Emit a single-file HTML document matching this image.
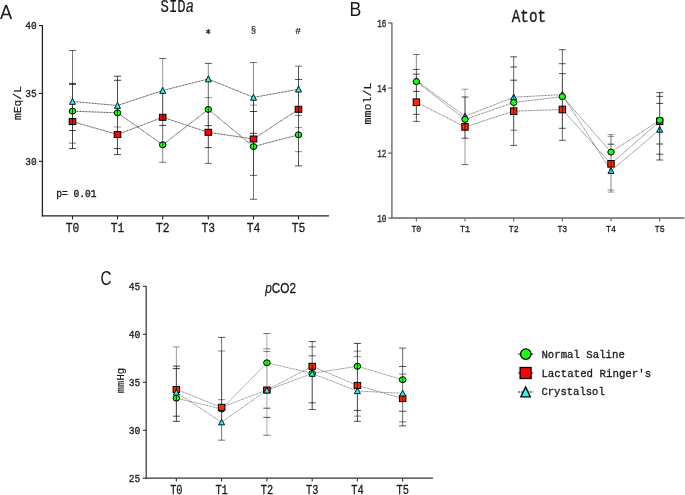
<!DOCTYPE html>
<html><head><meta charset="utf-8"><style>
html,body{margin:0;padding:0;background:#fff;width:685px;height:495px;overflow:hidden}
svg{display:block;will-change:transform}
</style></head><body>
<svg width="685" height="495" viewBox="0 0 685 495">
<rect width="685" height="495" fill="#fff"/>
<line x1="42.4" y1="25" x2="42.4" y2="216.4" stroke="#222" stroke-width="1.3"/>
<line x1="41.8" y1="215.8" x2="329" y2="215.8" stroke="#222" stroke-width="1.3"/>
<line x1="38.8" y1="25.6" x2="42.4" y2="25.6" stroke="#222" stroke-width="1.1"/>
<text x="36.6" y="29.3" font-size="10.5" font-family='"Liberation Mono", monospace' font-weight="normal" text-anchor="end" fill="#1a1a1a" stroke="#1a1a1a" stroke-width="0.3" textLength="11.4" lengthAdjust="spacingAndGlyphs" >40</text>
<line x1="38.8" y1="93.45" x2="42.4" y2="93.45" stroke="#222" stroke-width="1.1"/>
<text x="36.6" y="97.15" font-size="10.5" font-family='"Liberation Mono", monospace' font-weight="normal" text-anchor="end" fill="#1a1a1a" stroke="#1a1a1a" stroke-width="0.3" textLength="11.4" lengthAdjust="spacingAndGlyphs" >35</text>
<line x1="38.8" y1="161.3" x2="42.4" y2="161.3" stroke="#222" stroke-width="1.1"/>
<text x="36.6" y="165.0" font-size="10.5" font-family='"Liberation Mono", monospace' font-weight="normal" text-anchor="end" fill="#1a1a1a" stroke="#1a1a1a" stroke-width="0.3" textLength="11.4" lengthAdjust="spacingAndGlyphs" >30</text>
<line x1="72.5" y1="215.8" x2="72.5" y2="219.4" stroke="#222" stroke-width="1.1"/>
<text x="72.5" y="231.9" font-size="13" font-family='"Liberation Mono", monospace' font-weight="normal" text-anchor="middle" fill="#1a1a1a" stroke="#1a1a1a" stroke-width="0.3" textLength="13.6" lengthAdjust="spacingAndGlyphs" >T0</text>
<line x1="117.5" y1="215.8" x2="117.5" y2="219.4" stroke="#222" stroke-width="1.1"/>
<text x="117.5" y="231.9" font-size="13" font-family='"Liberation Mono", monospace' font-weight="normal" text-anchor="middle" fill="#1a1a1a" stroke="#1a1a1a" stroke-width="0.3" textLength="13.6" lengthAdjust="spacingAndGlyphs" >T1</text>
<line x1="162.7" y1="215.8" x2="162.7" y2="219.4" stroke="#222" stroke-width="1.1"/>
<text x="162.7" y="231.9" font-size="13" font-family='"Liberation Mono", monospace' font-weight="normal" text-anchor="middle" fill="#1a1a1a" stroke="#1a1a1a" stroke-width="0.3" textLength="13.6" lengthAdjust="spacingAndGlyphs" >T2</text>
<line x1="208.3" y1="215.8" x2="208.3" y2="219.4" stroke="#222" stroke-width="1.1"/>
<text x="208.3" y="231.9" font-size="13" font-family='"Liberation Mono", monospace' font-weight="normal" text-anchor="middle" fill="#1a1a1a" stroke="#1a1a1a" stroke-width="0.3" textLength="13.6" lengthAdjust="spacingAndGlyphs" >T3</text>
<line x1="253.5" y1="215.8" x2="253.5" y2="219.4" stroke="#222" stroke-width="1.1"/>
<text x="253.5" y="231.9" font-size="13" font-family='"Liberation Mono", monospace' font-weight="normal" text-anchor="middle" fill="#1a1a1a" stroke="#1a1a1a" stroke-width="0.3" textLength="13.6" lengthAdjust="spacingAndGlyphs" >T4</text>
<line x1="298.5" y1="215.8" x2="298.5" y2="219.4" stroke="#222" stroke-width="1.1"/>
<text x="298.5" y="231.9" font-size="13" font-family='"Liberation Mono", monospace' font-weight="normal" text-anchor="middle" fill="#1a1a1a" stroke="#1a1a1a" stroke-width="0.3" textLength="13.6" lengthAdjust="spacingAndGlyphs" >T5</text>
<path d="M72.50 111.20 L117.50 112.80 L162.70 144.80 L208.30 109.40 L253.50 146.60 L298.50 134.80" fill="none" stroke="#383838" stroke-width="0.9" stroke-dasharray="1.0,0.5"/>
<path d="M72.50 121.60 L117.50 134.50 L162.70 117.30 L208.30 132.30 L253.50 139.00 L298.50 109.30" fill="none" stroke="#383838" stroke-width="0.9" stroke-dasharray="1.0,0.5"/>
<path d="M72.50 101.50 L117.50 105.50 L162.70 90.50 L208.30 79.00 L253.50 97.40 L298.50 89.20" fill="none" stroke="#383838" stroke-width="0.9" stroke-dasharray="1.0,0.5"/>
<ellipse cx="72.5" cy="111.2" rx="3.25" ry="3.00" fill="#19ff14" stroke="#000" stroke-width="1.0"/>
<rect x="69.20" y="118.60" width="6.60" height="6.00" fill="#fc0006" stroke="#000" stroke-width="1.0"/>
<ellipse cx="117.5" cy="112.8" rx="3.25" ry="3.00" fill="#19ff14" stroke="#000" stroke-width="1.0"/>
<ellipse cx="162.7" cy="144.8" rx="3.25" ry="3.00" fill="#19ff14" stroke="#000" stroke-width="1.0"/>
<rect x="159.40" y="114.30" width="6.60" height="6.00" fill="#fc0006" stroke="#000" stroke-width="1.0"/>
<ellipse cx="208.3" cy="109.4" rx="3.25" ry="3.00" fill="#19ff14" stroke="#000" stroke-width="1.0"/>
<ellipse cx="253.5" cy="146.6" rx="3.25" ry="3.00" fill="#19ff14" stroke="#000" stroke-width="1.0"/>
<ellipse cx="298.5" cy="134.8" rx="3.25" ry="3.00" fill="#19ff14" stroke="#000" stroke-width="1.0"/>
<rect x="295.20" y="106.30" width="6.60" height="6.00" fill="#fc0006" stroke="#000" stroke-width="1.0"/>
<line x1="72.5" y1="50.5" x2="72.5" y2="84" stroke="#000" stroke-opacity="0.533" stroke-width="1.0"/>
<line x1="72.5" y1="84" x2="72.5" y2="148.6" stroke="#000" stroke-opacity="0.733" stroke-width="1.0"/>
<line x1="69.00" y1="50.5" x2="76.00" y2="50.5" stroke="#000" stroke-opacity="0.6" stroke-width="1"/>
<line x1="69.00" y1="83.4" x2="76.00" y2="83.4" stroke="#000" stroke-opacity="0.733" stroke-width="1"/>
<line x1="69.00" y1="84.4" x2="76.00" y2="84.4" stroke="#000" stroke-opacity="0.733" stroke-width="1"/>
<line x1="69.00" y1="130.5" x2="76.00" y2="130.5" stroke="#000" stroke-opacity="0.733" stroke-width="1"/>
<line x1="69.00" y1="143.1" x2="76.00" y2="143.1" stroke="#000" stroke-opacity="0.533" stroke-width="1"/>
<line x1="69.00" y1="148.6" x2="76.00" y2="148.6" stroke="#000" stroke-opacity="0.733" stroke-width="1"/>
<line x1="117.5" y1="76.2" x2="117.5" y2="154.6" stroke="#000" stroke-opacity="0.71" stroke-width="1.0"/>
<line x1="114.00" y1="76.2" x2="121.00" y2="76.2" stroke="#000" stroke-opacity="0.733" stroke-width="1"/>
<line x1="114.00" y1="80.3" x2="121.00" y2="80.3" stroke="#000" stroke-opacity="0.733" stroke-width="1"/>
<line x1="114.00" y1="127" x2="121.00" y2="127" stroke="#000" stroke-opacity="0.4" stroke-width="1"/>
<line x1="114.00" y1="148.6" x2="121.00" y2="148.6" stroke="#000" stroke-opacity="0.733" stroke-width="1"/>
<line x1="114.00" y1="154.6" x2="121.00" y2="154.6" stroke="#000" stroke-opacity="0.733" stroke-width="1"/>
<line x1="162.7" y1="58.5" x2="162.7" y2="90" stroke="#000" stroke-opacity="0.4" stroke-width="1.0"/>
<line x1="162.7" y1="90" x2="162.7" y2="118" stroke="#000" stroke-opacity="0.733" stroke-width="1.0"/>
<line x1="162.7" y1="118" x2="162.7" y2="145" stroke="#000" stroke-opacity="0.6" stroke-width="1.0"/>
<line x1="162.7" y1="145" x2="162.7" y2="162.3" stroke="#000" stroke-opacity="0.467" stroke-width="1.0"/>
<line x1="159.20" y1="58.5" x2="166.20" y2="58.5" stroke="#000" stroke-opacity="0.6" stroke-width="1"/>
<line x1="159.20" y1="125.4" x2="166.20" y2="125.4" stroke="#000" stroke-opacity="0.733" stroke-width="1"/>
<line x1="159.20" y1="162.3" x2="166.20" y2="162.3" stroke="#000" stroke-opacity="0.533" stroke-width="1"/>
<line x1="208.3" y1="63.4" x2="208.3" y2="79" stroke="#000" stroke-opacity="0.467" stroke-width="1.0"/>
<line x1="208.3" y1="79" x2="208.3" y2="109" stroke="#000" stroke-opacity="0.6" stroke-width="1.0"/>
<line x1="208.3" y1="109" x2="208.3" y2="147.6" stroke="#000" stroke-opacity="0.733" stroke-width="1.0"/>
<line x1="208.3" y1="147.6" x2="208.3" y2="163.4" stroke="#000" stroke-opacity="0.533" stroke-width="1.0"/>
<line x1="204.80" y1="63.4" x2="211.80" y2="63.4" stroke="#000" stroke-opacity="0.667" stroke-width="1"/>
<line x1="204.80" y1="97.7" x2="211.80" y2="97.7" stroke="#000" stroke-opacity="0.467" stroke-width="1"/>
<line x1="204.80" y1="125.6" x2="211.80" y2="125.6" stroke="#000" stroke-opacity="0.733" stroke-width="1"/>
<line x1="204.80" y1="147.6" x2="211.80" y2="147.6" stroke="#000" stroke-opacity="0.733" stroke-width="1"/>
<line x1="204.80" y1="163.4" x2="211.80" y2="163.4" stroke="#000" stroke-opacity="0.6" stroke-width="1"/>
<line x1="253.5" y1="62.5" x2="253.5" y2="97" stroke="#000" stroke-opacity="0.467" stroke-width="1.0"/>
<line x1="253.5" y1="97" x2="253.5" y2="175.4" stroke="#000" stroke-opacity="0.733" stroke-width="1.0"/>
<line x1="253.5" y1="175.4" x2="253.5" y2="199.3" stroke="#000" stroke-opacity="0.533" stroke-width="1.0"/>
<line x1="250.00" y1="62.5" x2="257.00" y2="62.5" stroke="#000" stroke-opacity="0.533" stroke-width="1"/>
<line x1="250.00" y1="105.1" x2="257.00" y2="105.1" stroke="#000" stroke-opacity="0.4" stroke-width="1"/>
<line x1="250.00" y1="111.5" x2="257.00" y2="111.5" stroke="#000" stroke-opacity="0.733" stroke-width="1"/>
<line x1="250.00" y1="133.3" x2="257.00" y2="133.3" stroke="#000" stroke-opacity="0.733" stroke-width="1"/>
<line x1="250.00" y1="175.4" x2="257.00" y2="175.4" stroke="#000" stroke-opacity="0.6" stroke-width="1"/>
<line x1="250.00" y1="199.3" x2="257.00" y2="199.3" stroke="#000" stroke-opacity="0.6" stroke-width="1"/>
<line x1="298.5" y1="66.2" x2="298.5" y2="165.9" stroke="#000" stroke-opacity="0.667" stroke-width="1.0"/>
<line x1="295.00" y1="66.2" x2="302.00" y2="66.2" stroke="#000" stroke-opacity="0.533" stroke-width="1"/>
<line x1="295.00" y1="79.5" x2="302.00" y2="79.5" stroke="#000" stroke-opacity="0.667" stroke-width="1"/>
<line x1="295.00" y1="115.4" x2="302.00" y2="115.4" stroke="#000" stroke-opacity="0.533" stroke-width="1"/>
<line x1="295.00" y1="127.5" x2="302.00" y2="127.5" stroke="#000" stroke-opacity="0.4" stroke-width="1"/>
<line x1="295.00" y1="151.7" x2="302.00" y2="151.7" stroke="#000" stroke-opacity="0.467" stroke-width="1"/>
<line x1="295.00" y1="165.9" x2="302.00" y2="165.9" stroke="#000" stroke-opacity="0.667" stroke-width="1"/>
<rect x="114.20" y="131.50" width="6.60" height="6.00" fill="#fc0006" stroke="#000" stroke-width="1.0"/>
<rect x="205.00" y="129.30" width="6.60" height="6.00" fill="#fc0006" stroke="#000" stroke-width="1.0"/>
<rect x="250.20" y="136.00" width="6.60" height="6.00" fill="#fc0006" stroke="#000" stroke-width="1.0"/>
<path d="M72.50 98.32 L75.48 104.35 L69.52 104.35 Z" fill="#20f8f8" stroke="#000" stroke-width="0.9" stroke-linejoin="miter" stroke-miterlimit="10"/>
<path d="M117.50 102.32 L120.48 108.35 L114.52 108.35 Z" fill="#20f8f8" stroke="#000" stroke-width="0.9" stroke-linejoin="miter" stroke-miterlimit="10"/>
<path d="M162.70 87.32 L165.68 93.35 L159.72 93.35 Z" fill="#20f8f8" stroke="#000" stroke-width="0.9" stroke-linejoin="miter" stroke-miterlimit="10"/>
<path d="M208.30 75.82 L211.28 81.85 L205.32 81.85 Z" fill="#20f8f8" stroke="#000" stroke-width="0.9" stroke-linejoin="miter" stroke-miterlimit="10"/>
<path d="M253.50 94.22 L256.48 100.25 L250.52 100.25 Z" fill="#20f8f8" stroke="#000" stroke-width="0.9" stroke-linejoin="miter" stroke-miterlimit="10"/>
<path d="M298.50 86.02 L301.48 92.05 L295.52 92.05 Z" fill="#20f8f8" stroke="#000" stroke-width="0.9" stroke-linejoin="miter" stroke-miterlimit="10"/>
<text x="160.6" y="12.2" font-size="18" font-family='"Liberation Mono", monospace' font-weight="normal" text-anchor="start" fill="#1a1a1a" stroke="#1a1a1a" stroke-width="0.2" textLength="33.5" lengthAdjust="spacingAndGlyphs" >SID<tspan font-style="italic">a</tspan></text>
<text x="0" y="19" font-size="20" font-family='"Liberation Sans", sans-serif' font-weight="normal" text-anchor="start" fill="#1a1a1a" textLength="12.2" lengthAdjust="spacingAndGlyphs" >A</text>
<text x="56.2" y="196.8" font-size="10.5" font-family='"Liberation Mono", monospace' font-weight="normal" text-anchor="start" fill="#1a1a1a" stroke="#1a1a1a" stroke-width="0.35" textLength="40.3" lengthAdjust="spacingAndGlyphs" >p= 0.01</text>
<text x="0" y="0" font-size="11" font-family='"Liberation Mono", monospace' fill="#1a1a1a" stroke="#1a1a1a" stroke-width="0.2" textLength="33.8" lengthAdjust="spacingAndGlyphs" transform="translate(20.6,119.9) rotate(-90)">mEq/L</text>
<line x1="208.25" y1="29.30" x2="208.25" y2="33.90" stroke="#111" stroke-width="1.0" stroke-linecap="round"/>
<line x1="206.34" y1="30.45" x2="210.16" y2="32.75" stroke="#111" stroke-width="1.0" stroke-linecap="round"/>
<line x1="210.16" y1="30.45" x2="206.34" y2="32.75" stroke="#111" stroke-width="1.0" stroke-linecap="round"/>
<text x="253.4" y="32.6" font-size="9" font-family='"Liberation Mono", monospace' font-weight="normal" text-anchor="middle" fill="#1a1a1a" stroke="#1a1a1a" stroke-width="0.2" >§</text>
<text x="298.1" y="34.2" font-size="9.5" font-family='"Liberation Mono", monospace' font-weight="normal" text-anchor="middle" fill="#1a1a1a" stroke="#1a1a1a" stroke-width="0.2" >#</text>
<line x1="391.9" y1="22.5" x2="391.9" y2="218.1" stroke="#777" stroke-width="1.5"/>
<line x1="391.2" y1="218.1" x2="684.5" y2="218.1" stroke="#666" stroke-width="1.5"/>
<line x1="388.09999999999997" y1="23.0" x2="391.9" y2="23.0" stroke="#555" stroke-width="1.1"/>
<text x="386.4" y="26.6" font-size="10.4" font-family='"Liberation Mono", monospace' font-weight="normal" text-anchor="end" fill="#1a1a1a" stroke="#1a1a1a" stroke-width="0.3" textLength="9.2" lengthAdjust="spacingAndGlyphs" >16</text>
<line x1="388.09999999999997" y1="88.05" x2="391.9" y2="88.05" stroke="#555" stroke-width="1.1"/>
<text x="386.4" y="91.64999999999999" font-size="10.4" font-family='"Liberation Mono", monospace' font-weight="normal" text-anchor="end" fill="#1a1a1a" stroke="#1a1a1a" stroke-width="0.3" textLength="9.2" lengthAdjust="spacingAndGlyphs" >14</text>
<line x1="388.09999999999997" y1="153.1" x2="391.9" y2="153.1" stroke="#555" stroke-width="1.1"/>
<text x="386.4" y="156.7" font-size="10.4" font-family='"Liberation Mono", monospace' font-weight="normal" text-anchor="end" fill="#1a1a1a" stroke="#1a1a1a" stroke-width="0.3" textLength="9.2" lengthAdjust="spacingAndGlyphs" >12</text>
<line x1="388.09999999999997" y1="218.1" x2="391.9" y2="218.1" stroke="#555" stroke-width="1.1"/>
<text x="386.4" y="221.7" font-size="10.4" font-family='"Liberation Mono", monospace' font-weight="normal" text-anchor="end" fill="#1a1a1a" stroke="#1a1a1a" stroke-width="0.3" textLength="9.2" lengthAdjust="spacingAndGlyphs" >10</text>
<line x1="416.35" y1="218.1" x2="416.35" y2="221.4" stroke="#666" stroke-width="1.1"/>
<text x="416.35" y="231.8" font-size="9.5" font-family='"Liberation Mono", monospace' font-weight="normal" text-anchor="middle" fill="#1a1a1a" stroke="#1a1a1a" stroke-width="0.3" textLength="9.9" lengthAdjust="spacingAndGlyphs" >T0</text>
<line x1="465.0" y1="218.1" x2="465.0" y2="221.4" stroke="#666" stroke-width="1.1"/>
<text x="465.0" y="231.8" font-size="9.5" font-family='"Liberation Mono", monospace' font-weight="normal" text-anchor="middle" fill="#1a1a1a" stroke="#1a1a1a" stroke-width="0.3" textLength="9.9" lengthAdjust="spacingAndGlyphs" >T1</text>
<line x1="513.7" y1="218.1" x2="513.7" y2="221.4" stroke="#666" stroke-width="1.1"/>
<text x="513.7" y="231.8" font-size="9.5" font-family='"Liberation Mono", monospace' font-weight="normal" text-anchor="middle" fill="#1a1a1a" stroke="#1a1a1a" stroke-width="0.3" textLength="9.9" lengthAdjust="spacingAndGlyphs" >T2</text>
<line x1="562.35" y1="218.1" x2="562.35" y2="221.4" stroke="#666" stroke-width="1.1"/>
<text x="562.35" y="231.8" font-size="9.5" font-family='"Liberation Mono", monospace' font-weight="normal" text-anchor="middle" fill="#1a1a1a" stroke="#1a1a1a" stroke-width="0.3" textLength="9.9" lengthAdjust="spacingAndGlyphs" >T3</text>
<line x1="611.0" y1="218.1" x2="611.0" y2="221.4" stroke="#666" stroke-width="1.1"/>
<text x="611.0" y="231.8" font-size="9.5" font-family='"Liberation Mono", monospace' font-weight="normal" text-anchor="middle" fill="#1a1a1a" stroke="#1a1a1a" stroke-width="0.3" textLength="9.9" lengthAdjust="spacingAndGlyphs" >T4</text>
<line x1="659.7" y1="218.1" x2="659.7" y2="221.4" stroke="#666" stroke-width="1.1"/>
<text x="659.7" y="231.8" font-size="9.5" font-family='"Liberation Mono", monospace' font-weight="normal" text-anchor="middle" fill="#1a1a1a" stroke="#1a1a1a" stroke-width="0.3" textLength="9.9" lengthAdjust="spacingAndGlyphs" >T5</text>
<path d="M416.35 80.60 L465.00 116.30 L513.70 97.20 L562.35 94.60 L611.00 170.80 L659.70 129.60" fill="none" stroke="#606060" stroke-width="0.8" stroke-dasharray="1.0,0.5"/>
<path d="M416.35 102.20 L465.00 126.90 L513.70 111.20 L562.35 109.50 L611.00 163.80 L659.70 121.30" fill="none" stroke="#606060" stroke-width="0.8" stroke-dasharray="1.0,0.5"/>
<path d="M416.35 81.60 L465.00 119.40 L513.70 102.50 L562.35 96.60 L611.00 152.10 L659.70 120.30" fill="none" stroke="#606060" stroke-width="0.8" stroke-dasharray="1.0,0.5"/>
<path d="M416.35 77.55 L419.40 83.25 L413.30 83.25 Z" fill="#20f8f8" stroke="#000" stroke-width="0.9" stroke-linejoin="miter" stroke-miterlimit="10"/>
<path d="M465.00 113.25 L468.05 118.95 L461.95 118.95 Z" fill="#20f8f8" stroke="#000" stroke-width="0.9" stroke-linejoin="miter" stroke-miterlimit="10"/>
<rect x="461.80" y="123.60" width="6.40" height="6.60" fill="#ff2600" stroke="#000" stroke-width="1.0"/>
<path d="M513.70 94.15 L516.75 99.85 L510.65 99.85 Z" fill="#20f8f8" stroke="#000" stroke-width="0.9" stroke-linejoin="miter" stroke-miterlimit="10"/>
<rect x="510.50" y="107.90" width="6.40" height="6.60" fill="#ff2600" stroke="#000" stroke-width="1.0"/>
<path d="M562.35 91.55 L565.40 97.25 L559.30 97.25 Z" fill="#20f8f8" stroke="#000" stroke-width="0.9" stroke-linejoin="miter" stroke-miterlimit="10"/>
<rect x="559.15" y="106.20" width="6.40" height="6.60" fill="#ff2600" stroke="#000" stroke-width="1.0"/>
<path d="M611.00 167.75 L614.05 173.45 L607.95 173.45 Z" fill="#20f8f8" stroke="#000" stroke-width="0.9" stroke-linejoin="miter" stroke-miterlimit="10"/>
<rect x="607.80" y="160.50" width="6.40" height="6.60" fill="#ff2600" stroke="#000" stroke-width="1.0"/>
<path d="M659.70 126.55 L662.75 132.25 L656.65 132.25 Z" fill="#20f8f8" stroke="#000" stroke-width="0.9" stroke-linejoin="miter" stroke-miterlimit="10"/>
<rect x="656.50" y="118.00" width="6.40" height="6.60" fill="#ff2600" stroke="#000" stroke-width="1.0"/>
<line x1="416.35" y1="54.5" x2="416.35" y2="69.4" stroke="#000" stroke-opacity="0.467" stroke-width="1.0"/>
<line x1="416.35" y1="69.4" x2="416.35" y2="81" stroke="#000" stroke-opacity="0.667" stroke-width="1.0"/>
<line x1="416.35" y1="81" x2="416.35" y2="114.4" stroke="#000" stroke-opacity="0.733" stroke-width="1.0"/>
<line x1="416.35" y1="114.4" x2="416.35" y2="121.4" stroke="#000" stroke-opacity="0.667" stroke-width="1.0"/>
<line x1="412.95" y1="54.5" x2="419.75" y2="54.5" stroke="#000" stroke-opacity="0.533" stroke-width="1"/>
<line x1="412.95" y1="69.4" x2="419.75" y2="69.4" stroke="#000" stroke-opacity="0.667" stroke-width="1"/>
<line x1="412.95" y1="74.2" x2="419.75" y2="74.2" stroke="#000" stroke-opacity="0.667" stroke-width="1"/>
<line x1="412.95" y1="91.4" x2="419.75" y2="91.4" stroke="#000" stroke-opacity="0.733" stroke-width="1"/>
<line x1="412.95" y1="114.4" x2="419.75" y2="114.4" stroke="#000" stroke-opacity="0.667" stroke-width="1"/>
<line x1="412.95" y1="121.4" x2="419.75" y2="121.4" stroke="#000" stroke-opacity="0.6" stroke-width="1"/>
<line x1="465.0" y1="89.2" x2="465.0" y2="97" stroke="#000" stroke-opacity="0.333" stroke-width="1.0"/>
<line x1="465.0" y1="97" x2="465.0" y2="138.2" stroke="#000" stroke-opacity="0.773" stroke-width="1.0"/>
<line x1="465.0" y1="138.2" x2="465.0" y2="164.6" stroke="#000" stroke-opacity="0.4" stroke-width="1.0"/>
<line x1="461.60" y1="89.2" x2="468.40" y2="89.2" stroke="#000" stroke-opacity="0.4" stroke-width="1"/>
<line x1="461.60" y1="97" x2="468.40" y2="97" stroke="#000" stroke-opacity="0.733" stroke-width="1"/>
<line x1="461.60" y1="138.2" x2="468.40" y2="138.2" stroke="#000" stroke-opacity="0.667" stroke-width="1"/>
<line x1="461.60" y1="164.6" x2="468.40" y2="164.6" stroke="#000" stroke-opacity="0.6" stroke-width="1"/>
<line x1="513.7" y1="56.8" x2="513.7" y2="80.2" stroke="#000" stroke-opacity="0.6" stroke-width="1.0"/>
<line x1="513.7" y1="80.2" x2="513.7" y2="130.2" stroke="#000" stroke-opacity="0.733" stroke-width="1.0"/>
<line x1="513.7" y1="130.2" x2="513.7" y2="145.4" stroke="#000" stroke-opacity="0.6" stroke-width="1.0"/>
<line x1="510.30" y1="56.8" x2="517.10" y2="56.8" stroke="#000" stroke-opacity="0.667" stroke-width="1"/>
<line x1="510.30" y1="67" x2="517.10" y2="67" stroke="#000" stroke-opacity="0.667" stroke-width="1"/>
<line x1="510.30" y1="80.2" x2="517.10" y2="80.2" stroke="#000" stroke-opacity="0.733" stroke-width="1"/>
<line x1="510.30" y1="130.2" x2="517.10" y2="130.2" stroke="#000" stroke-opacity="0.533" stroke-width="1"/>
<line x1="510.30" y1="145.4" x2="517.10" y2="145.4" stroke="#000" stroke-opacity="0.667" stroke-width="1"/>
<line x1="562.35" y1="49.7" x2="562.35" y2="73.6" stroke="#000" stroke-opacity="0.6" stroke-width="1.0"/>
<line x1="562.35" y1="73.6" x2="562.35" y2="128.3" stroke="#000" stroke-opacity="0.773" stroke-width="1.0"/>
<line x1="562.35" y1="128.3" x2="562.35" y2="140.3" stroke="#000" stroke-opacity="0.6" stroke-width="1.0"/>
<line x1="558.95" y1="49.7" x2="565.75" y2="49.7" stroke="#000" stroke-opacity="0.667" stroke-width="1"/>
<line x1="558.95" y1="63.7" x2="565.75" y2="63.7" stroke="#000" stroke-opacity="0.667" stroke-width="1"/>
<line x1="558.95" y1="73.6" x2="565.75" y2="73.6" stroke="#000" stroke-opacity="0.667" stroke-width="1"/>
<line x1="558.95" y1="128.3" x2="565.75" y2="128.3" stroke="#000" stroke-opacity="0.667" stroke-width="1"/>
<line x1="558.95" y1="140.3" x2="565.75" y2="140.3" stroke="#000" stroke-opacity="0.667" stroke-width="1"/>
<line x1="611.0" y1="134.6" x2="611.0" y2="165" stroke="#000" stroke-opacity="0.533" stroke-width="1.0"/>
<line x1="611.0" y1="165" x2="611.0" y2="192.1" stroke="#000" stroke-opacity="0.467" stroke-width="1.0"/>
<line x1="607.60" y1="134.6" x2="614.40" y2="134.6" stroke="#000" stroke-opacity="0.4" stroke-width="1"/>
<line x1="607.60" y1="136.4" x2="614.40" y2="136.4" stroke="#000" stroke-opacity="0.4" stroke-width="1"/>
<line x1="607.60" y1="144.2" x2="614.40" y2="144.2" stroke="#000" stroke-opacity="0.733" stroke-width="1"/>
<line x1="607.60" y1="190" x2="614.40" y2="190" stroke="#000" stroke-opacity="0.4" stroke-width="1"/>
<line x1="607.60" y1="192.1" x2="614.40" y2="192.1" stroke="#000" stroke-opacity="0.4" stroke-width="1"/>
<line x1="659.7" y1="92.6" x2="659.7" y2="160" stroke="#000" stroke-opacity="0.733" stroke-width="1.0"/>
<line x1="656.30" y1="92.6" x2="663.10" y2="92.6" stroke="#000" stroke-opacity="0.667" stroke-width="1"/>
<line x1="656.30" y1="96.4" x2="663.10" y2="96.4" stroke="#000" stroke-opacity="0.667" stroke-width="1"/>
<line x1="656.30" y1="103.4" x2="663.10" y2="103.4" stroke="#000" stroke-opacity="0.733" stroke-width="1"/>
<line x1="656.30" y1="144" x2="663.10" y2="144" stroke="#000" stroke-opacity="0.733" stroke-width="1"/>
<line x1="656.30" y1="154.2" x2="663.10" y2="154.2" stroke="#000" stroke-opacity="0.667" stroke-width="1"/>
<line x1="656.30" y1="160" x2="663.10" y2="160" stroke="#000" stroke-opacity="0.667" stroke-width="1"/>
<rect x="413.15" y="98.90" width="6.40" height="6.60" fill="#ff2600" stroke="#000" stroke-width="1.0"/>
<ellipse cx="416.35" cy="81.6" rx="3.20" ry="3.00" fill="#19ff14" stroke="#000" stroke-width="1.0"/>
<ellipse cx="465.0" cy="119.4" rx="3.20" ry="3.00" fill="#19ff14" stroke="#000" stroke-width="1.0"/>
<ellipse cx="513.7" cy="102.5" rx="3.20" ry="3.00" fill="#19ff14" stroke="#000" stroke-width="1.0"/>
<ellipse cx="562.35" cy="96.6" rx="3.20" ry="3.00" fill="#19ff14" stroke="#000" stroke-width="1.0"/>
<ellipse cx="611.0" cy="152.1" rx="3.20" ry="3.00" fill="#19ff14" stroke="#000" stroke-width="1.0"/>
<ellipse cx="659.7" cy="120.3" rx="3.20" ry="3.00" fill="#19ff14" stroke="#000" stroke-width="1.0"/>
<text x="511.7" y="21.6" font-size="18.5" font-family='"Liberation Mono", monospace' font-weight="normal" text-anchor="start" fill="#1a1a1a" stroke="#1a1a1a" stroke-width="0.35" textLength="34.4" lengthAdjust="spacingAndGlyphs" >Atot</text>
<text x="349.6" y="16" font-size="19.5" font-family='"Liberation Sans", sans-serif' font-weight="normal" text-anchor="start" fill="#1a1a1a" textLength="11.8" lengthAdjust="spacingAndGlyphs" >B</text>
<text x="0" y="0" font-size="11.2" font-family='"Liberation Mono", monospace' fill="#1a1a1a" stroke="#1a1a1a" stroke-width="0.2" textLength="42" lengthAdjust="spacingAndGlyphs" transform="translate(371.0,124.6) rotate(-90)">mmol/L</text>
<line x1="146.2" y1="286" x2="146.2" y2="478.8" stroke="#333" stroke-width="1.2"/>
<line x1="145.6" y1="478.2" x2="433" y2="478.2" stroke="#333" stroke-width="1.2"/>
<line x1="142.79999999999998" y1="286.3" x2="146.2" y2="286.3" stroke="#333" stroke-width="1.1"/>
<text x="140.4" y="290.1" font-size="10.5" font-family='"Liberation Mono", monospace' font-weight="normal" text-anchor="end" fill="#1a1a1a" stroke="#1a1a1a" stroke-width="0.3" textLength="11.6" lengthAdjust="spacingAndGlyphs" >45</text>
<line x1="142.79999999999998" y1="334.3" x2="146.2" y2="334.3" stroke="#333" stroke-width="1.1"/>
<text x="140.4" y="338.1" font-size="10.5" font-family='"Liberation Mono", monospace' font-weight="normal" text-anchor="end" fill="#1a1a1a" stroke="#1a1a1a" stroke-width="0.3" textLength="11.6" lengthAdjust="spacingAndGlyphs" >40</text>
<line x1="142.79999999999998" y1="382.3" x2="146.2" y2="382.3" stroke="#333" stroke-width="1.1"/>
<text x="140.4" y="386.1" font-size="10.5" font-family='"Liberation Mono", monospace' font-weight="normal" text-anchor="end" fill="#1a1a1a" stroke="#1a1a1a" stroke-width="0.3" textLength="11.6" lengthAdjust="spacingAndGlyphs" >35</text>
<line x1="142.79999999999998" y1="430.3" x2="146.2" y2="430.3" stroke="#333" stroke-width="1.1"/>
<text x="140.4" y="434.1" font-size="10.5" font-family='"Liberation Mono", monospace' font-weight="normal" text-anchor="end" fill="#1a1a1a" stroke="#1a1a1a" stroke-width="0.3" textLength="11.6" lengthAdjust="spacingAndGlyphs" >30</text>
<line x1="142.79999999999998" y1="478.2" x2="146.2" y2="478.2" stroke="#333" stroke-width="1.1"/>
<text x="140.4" y="482.0" font-size="10.5" font-family='"Liberation Mono", monospace' font-weight="normal" text-anchor="end" fill="#1a1a1a" stroke="#1a1a1a" stroke-width="0.3" textLength="11.6" lengthAdjust="spacingAndGlyphs" >25</text>
<line x1="176.35" y1="478.2" x2="176.35" y2="481.59999999999997" stroke="#333" stroke-width="1.1"/>
<text x="176.35" y="493.9" font-size="13" font-family='"Liberation Mono", monospace' font-weight="normal" text-anchor="middle" fill="#1a1a1a" stroke="#1a1a1a" stroke-width="0.3" textLength="12.4" lengthAdjust="spacingAndGlyphs" >T0</text>
<line x1="221.6" y1="478.2" x2="221.6" y2="481.59999999999997" stroke="#333" stroke-width="1.1"/>
<text x="221.6" y="493.9" font-size="13" font-family='"Liberation Mono", monospace' font-weight="normal" text-anchor="middle" fill="#1a1a1a" stroke="#1a1a1a" stroke-width="0.3" textLength="12.4" lengthAdjust="spacingAndGlyphs" >T1</text>
<line x1="266.9" y1="478.2" x2="266.9" y2="481.59999999999997" stroke="#333" stroke-width="1.1"/>
<text x="266.9" y="493.9" font-size="13" font-family='"Liberation Mono", monospace' font-weight="normal" text-anchor="middle" fill="#1a1a1a" stroke="#1a1a1a" stroke-width="0.3" textLength="12.4" lengthAdjust="spacingAndGlyphs" >T2</text>
<line x1="312.2" y1="478.2" x2="312.2" y2="481.59999999999997" stroke="#333" stroke-width="1.1"/>
<text x="312.2" y="493.9" font-size="13" font-family='"Liberation Mono", monospace' font-weight="normal" text-anchor="middle" fill="#1a1a1a" stroke="#1a1a1a" stroke-width="0.3" textLength="12.4" lengthAdjust="spacingAndGlyphs" >T3</text>
<line x1="357.4" y1="478.2" x2="357.4" y2="481.59999999999997" stroke="#333" stroke-width="1.1"/>
<text x="357.4" y="493.9" font-size="13" font-family='"Liberation Mono", monospace' font-weight="normal" text-anchor="middle" fill="#1a1a1a" stroke="#1a1a1a" stroke-width="0.3" textLength="12.4" lengthAdjust="spacingAndGlyphs" >T4</text>
<line x1="402.65" y1="478.2" x2="402.65" y2="481.59999999999997" stroke="#333" stroke-width="1.1"/>
<text x="402.65" y="493.9" font-size="13" font-family='"Liberation Mono", monospace' font-weight="normal" text-anchor="middle" fill="#1a1a1a" stroke="#1a1a1a" stroke-width="0.3" textLength="12.4" lengthAdjust="spacingAndGlyphs" >T5</text>
<path d="M176.35 398.20 L221.60 409.00 L266.90 362.80 L312.20 373.30 L357.40 366.30 L402.65 379.70" fill="none" stroke="#707070" stroke-width="0.8" stroke-dasharray="1.0,0.5"/>
<path d="M176.35 389.50 L221.60 407.30 L266.90 390.00 L312.20 366.30 L357.40 385.40 L402.65 398.60" fill="none" stroke="#707070" stroke-width="0.8" stroke-dasharray="1.0,0.5"/>
<path d="M176.35 392.40 L221.60 422.20 L266.90 390.30 L312.20 373.60 L357.40 391.00 L402.65 393.30" fill="none" stroke="#707070" stroke-width="0.8" stroke-dasharray="1.0,0.5"/>
<ellipse cx="176.35" cy="398.2" rx="3.30" ry="3.00" fill="#19ff14" stroke="#000" stroke-width="1.0"/>
<rect x="173.10" y="386.50" width="6.50" height="6.00" fill="#ff2600" stroke="#000" stroke-width="1.0"/>
<ellipse cx="221.6" cy="409" rx="3.30" ry="3.00" fill="#19ff14" stroke="#000" stroke-width="1.0"/>
<ellipse cx="266.9" cy="362.8" rx="3.30" ry="3.00" fill="#19ff14" stroke="#000" stroke-width="1.0"/>
<rect x="263.65" y="387.00" width="6.50" height="6.00" fill="#ff2600" stroke="#000" stroke-width="1.0"/>
<ellipse cx="312.2" cy="373.3" rx="3.30" ry="3.00" fill="#19ff14" stroke="#000" stroke-width="1.0"/>
<rect x="308.95" y="363.30" width="6.50" height="6.00" fill="#ff2600" stroke="#000" stroke-width="1.0"/>
<ellipse cx="357.4" cy="366.3" rx="3.30" ry="3.00" fill="#19ff14" stroke="#000" stroke-width="1.0"/>
<rect x="354.15" y="382.40" width="6.50" height="6.00" fill="#ff2600" stroke="#000" stroke-width="1.0"/>
<ellipse cx="402.65" cy="379.7" rx="3.30" ry="3.00" fill="#19ff14" stroke="#000" stroke-width="1.0"/>
<rect x="399.40" y="395.60" width="6.50" height="6.00" fill="#ff2600" stroke="#000" stroke-width="1.0"/>
<line x1="176.35" y1="346.9" x2="176.35" y2="366" stroke="#000" stroke-opacity="0.4" stroke-width="1.0"/>
<line x1="176.35" y1="366" x2="176.35" y2="421.3" stroke="#000" stroke-opacity="0.773" stroke-width="1.0"/>
<line x1="172.75" y1="346.9" x2="179.95" y2="346.9" stroke="#000" stroke-opacity="0.4" stroke-width="1"/>
<line x1="172.75" y1="366.1" x2="179.95" y2="366.1" stroke="#000" stroke-opacity="0.733" stroke-width="1"/>
<line x1="172.75" y1="368.6" x2="179.95" y2="368.6" stroke="#000" stroke-opacity="0.733" stroke-width="1"/>
<line x1="172.75" y1="416.2" x2="179.95" y2="416.2" stroke="#000" stroke-opacity="0.667" stroke-width="1"/>
<line x1="172.75" y1="421.3" x2="179.95" y2="421.3" stroke="#000" stroke-opacity="0.733" stroke-width="1"/>
<line x1="221.6" y1="337.4" x2="221.6" y2="351" stroke="#000" stroke-opacity="0.533" stroke-width="1.0"/>
<line x1="221.6" y1="351" x2="221.6" y2="422" stroke="#000" stroke-opacity="0.733" stroke-width="1.0"/>
<line x1="221.6" y1="422" x2="221.6" y2="440.2" stroke="#000" stroke-opacity="0.533" stroke-width="1.0"/>
<line x1="218.00" y1="337.4" x2="225.20" y2="337.4" stroke="#000" stroke-opacity="0.667" stroke-width="1"/>
<line x1="218.00" y1="351" x2="225.20" y2="351" stroke="#000" stroke-opacity="0.467" stroke-width="1"/>
<line x1="218.00" y1="399.7" x2="225.20" y2="399.7" stroke="#000" stroke-opacity="0.467" stroke-width="1"/>
<line x1="218.00" y1="440.2" x2="225.20" y2="440.2" stroke="#000" stroke-opacity="0.533" stroke-width="1"/>
<line x1="266.9" y1="333.5" x2="266.9" y2="363" stroke="#000" stroke-opacity="0.333" stroke-width="1.0"/>
<line x1="266.9" y1="363" x2="266.9" y2="390" stroke="#000" stroke-opacity="0.4" stroke-width="1.0"/>
<line x1="266.9" y1="390" x2="266.9" y2="435.3" stroke="#000" stroke-opacity="0.333" stroke-width="1.0"/>
<line x1="263.30" y1="333.5" x2="270.50" y2="333.5" stroke="#000" stroke-opacity="0.533" stroke-width="1"/>
<line x1="263.30" y1="348.9" x2="270.50" y2="348.9" stroke="#000" stroke-opacity="0.467" stroke-width="1"/>
<line x1="263.30" y1="351.5" x2="270.50" y2="351.5" stroke="#000" stroke-opacity="0.467" stroke-width="1"/>
<line x1="263.30" y1="408.2" x2="270.50" y2="408.2" stroke="#000" stroke-opacity="0.667" stroke-width="1"/>
<line x1="263.30" y1="417.4" x2="270.50" y2="417.4" stroke="#000" stroke-opacity="0.667" stroke-width="1"/>
<line x1="263.30" y1="435.3" x2="270.50" y2="435.3" stroke="#000" stroke-opacity="0.533" stroke-width="1"/>
<line x1="312.2" y1="341.5" x2="312.2" y2="366" stroke="#000" stroke-opacity="0.6" stroke-width="1.0"/>
<line x1="312.2" y1="366" x2="312.2" y2="409.5" stroke="#000" stroke-opacity="0.733" stroke-width="1.0"/>
<line x1="308.60" y1="341.5" x2="315.80" y2="341.5" stroke="#000" stroke-opacity="0.667" stroke-width="1"/>
<line x1="308.60" y1="346.9" x2="315.80" y2="346.9" stroke="#000" stroke-opacity="0.533" stroke-width="1"/>
<line x1="308.60" y1="355.8" x2="315.80" y2="355.8" stroke="#000" stroke-opacity="0.6" stroke-width="1"/>
<line x1="308.60" y1="402.8" x2="315.80" y2="402.8" stroke="#000" stroke-opacity="0.667" stroke-width="1"/>
<line x1="308.60" y1="409.5" x2="315.80" y2="409.5" stroke="#000" stroke-opacity="0.6" stroke-width="1"/>
<line x1="357.4" y1="343.4" x2="357.4" y2="421.3" stroke="#000" stroke-opacity="0.733" stroke-width="1.0"/>
<line x1="353.80" y1="343.4" x2="361.00" y2="343.4" stroke="#000" stroke-opacity="0.733" stroke-width="1"/>
<line x1="353.80" y1="351.2" x2="361.00" y2="351.2" stroke="#000" stroke-opacity="0.467" stroke-width="1"/>
<line x1="353.80" y1="356.6" x2="361.00" y2="356.6" stroke="#000" stroke-opacity="0.467" stroke-width="1"/>
<line x1="353.80" y1="410.4" x2="361.00" y2="410.4" stroke="#000" stroke-opacity="0.667" stroke-width="1"/>
<line x1="353.80" y1="416.1" x2="361.00" y2="416.1" stroke="#000" stroke-opacity="0.467" stroke-width="1"/>
<line x1="353.80" y1="421.3" x2="361.00" y2="421.3" stroke="#000" stroke-opacity="0.667" stroke-width="1"/>
<line x1="402.65" y1="348.1" x2="402.65" y2="425.9" stroke="#000" stroke-opacity="0.584" stroke-width="1.0"/>
<line x1="399.05" y1="348.1" x2="406.25" y2="348.1" stroke="#000" stroke-opacity="0.6" stroke-width="1"/>
<line x1="399.05" y1="366.5" x2="406.25" y2="366.5" stroke="#000" stroke-opacity="0.667" stroke-width="1"/>
<line x1="399.05" y1="374.1" x2="406.25" y2="374.1" stroke="#000" stroke-opacity="0.533" stroke-width="1"/>
<line x1="399.05" y1="411.3" x2="406.25" y2="411.3" stroke="#000" stroke-opacity="0.667" stroke-width="1"/>
<line x1="399.05" y1="421.9" x2="406.25" y2="421.9" stroke="#000" stroke-opacity="0.533" stroke-width="1"/>
<line x1="399.05" y1="425.9" x2="406.25" y2="425.9" stroke="#000" stroke-opacity="0.667" stroke-width="1"/>
<rect x="218.35" y="404.30" width="6.50" height="6.00" fill="#ff2600" stroke="#000" stroke-width="1.0"/>
<path d="M176.35 389.45 L179.35 395.05 L173.35 395.05 Z" fill="#20f8f8" stroke="#000" stroke-width="0.9" stroke-linejoin="miter" stroke-miterlimit="10"/>
<path d="M221.60 419.25 L224.60 424.85 L218.60 424.85 Z" fill="#20f8f8" stroke="#000" stroke-width="0.9" stroke-linejoin="miter" stroke-miterlimit="10"/>
<path d="M266.90 387.35 L269.90 392.95 L263.90 392.95 Z" fill="#20f8f8" stroke="#000" stroke-width="0.9" stroke-linejoin="miter" stroke-miterlimit="10"/>
<path d="M312.20 370.65 L315.20 376.25 L309.20 376.25 Z" fill="#20f8f8" stroke="#000" stroke-width="0.9" stroke-linejoin="miter" stroke-miterlimit="10"/>
<path d="M357.40 388.05 L360.40 393.65 L354.40 393.65 Z" fill="#20f8f8" stroke="#000" stroke-width="0.9" stroke-linejoin="miter" stroke-miterlimit="10"/>
<path d="M402.65 390.35 L405.65 395.95 L399.65 395.95 Z" fill="#20f8f8" stroke="#000" stroke-width="0.9" stroke-linejoin="miter" stroke-miterlimit="10"/>
<text x="265.3" y="293.4" font-size="15.5" font-family='"Liberation Sans", sans-serif' font-weight="normal" text-anchor="start" fill="#1a1a1a" stroke="#1a1a1a" stroke-width="0.3" textLength="30.7" lengthAdjust="spacingAndGlyphs" ><tspan font-style="italic">p</tspan>CO2</text>
<text x="100.5" y="285.3" font-size="21" font-family='"Liberation Sans", sans-serif' font-weight="normal" text-anchor="start" fill="#1a1a1a" textLength="11.1" lengthAdjust="spacingAndGlyphs" >C</text>
<text x="0" y="0" font-size="11" font-family='"Liberation Mono", monospace' fill="#1a1a1a" stroke="#1a1a1a" stroke-width="0.15" textLength="25.4" lengthAdjust="spacingAndGlyphs" transform="translate(123.8,393.3) rotate(-90)">mmHg</text>
<line x1="518" y1="354.1" x2="533.4" y2="354.1" stroke="#222" stroke-width="1"/>
<ellipse cx="525.8" cy="354.1" rx="5.25" ry="5.25" fill="#19ff14" stroke="#000" stroke-width="1.3"/>
<line x1="518" y1="373" x2="533.4" y2="373" stroke="#222" stroke-width="1"/>
<rect x="520.10" y="367.50" width="11.00" height="11.00" fill="#fc0006" stroke="#000" stroke-width="1.3"/>
<line x1="518" y1="392" x2="533.4" y2="392" stroke="#222" stroke-width="1" stroke-dasharray="2.2,0.8"/>
<path d="M525.60 386.90 L530.37 396.85 L520.83 396.85 Z" fill="#20f8f8" stroke="#000" stroke-width="1.3" stroke-linejoin="miter" stroke-miterlimit="10"/>
<text x="541.4" y="357.7" font-size="11" font-family='"Liberation Mono", monospace' font-weight="normal" text-anchor="start" fill="#1a1a1a" stroke="#1a1a1a" stroke-width="0.3" textLength="83.5" lengthAdjust="spacingAndGlyphs" >Normal Saline</text>
<text x="541.4" y="376.9" font-size="11" font-family='"Liberation Mono", monospace' font-weight="normal" text-anchor="start" fill="#1a1a1a" stroke="#1a1a1a" stroke-width="0.3" textLength="109.8" lengthAdjust="spacingAndGlyphs" >Lactated Ringer's</text>
<text x="541.4" y="395.4" font-size="11" font-family='"Liberation Mono", monospace' font-weight="normal" text-anchor="start" fill="#1a1a1a" stroke="#1a1a1a" stroke-width="0.3" textLength="63.4" lengthAdjust="spacingAndGlyphs" >Crystalsol</text>
</svg></body></html>
